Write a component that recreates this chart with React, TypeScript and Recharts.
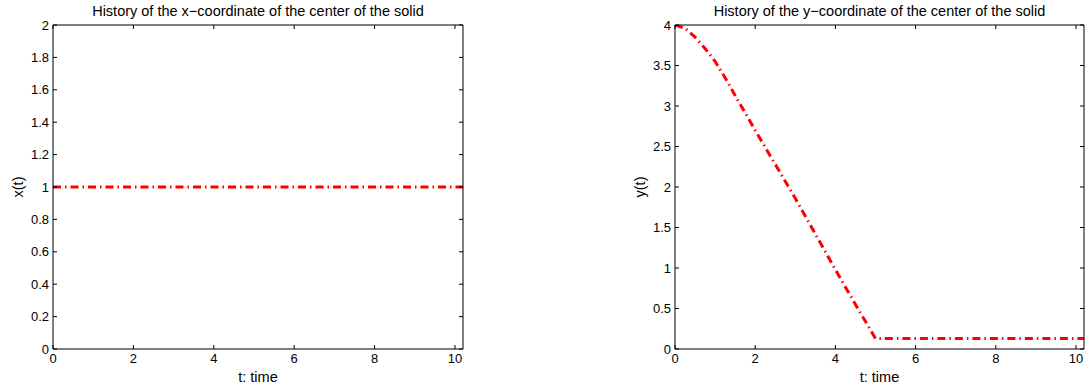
import React from "react";
import { Line, LineChart, XAxis, YAxis } from "recharts";

// x-coordinate of the solid's center over time (stays put)
const xTime = [0, 10.2];
const xCoord = [1, 1];

// y-coordinate of the solid's center over time (falls, then rests)
const yTime = [0, 0.25, 0.5, 0.75, 1, 1.25, 1.5, 2, 2.5, 3, 3.5, 4, 4.5, 5, 10.2];
const yCoord = [4, 3.96, 3.85, 3.71, 3.55, 3.35, 3.13, 2.7, 2.28, 1.86, 1.42, 0.98, 0.55, 0.13, 0.13];

const timeTicks = [0, 2, 4, 6, 8, 10];
const xCoordTicks = [0, 0.2, 0.4, 0.6, 0.8, 1, 1.2, 1.4, 1.6, 1.8, 2];
const yCoordTicks = [0, 0.5, 1, 1.5, 2, 2.5, 3, 3.5, 4];

const FONT = '"Liberation Sans", Arial, Helvetica, sans-serif';
const TICK_LEN = 4;
const X_MARGIN = 5;
const Y_MARGIN = 4;

function BottomTick({ x, y, payload }: any) {
  const axisY = y - X_MARGIN;
  return (
    <g>
      <line x1={x} y1={axisY} x2={x} y2={axisY - TICK_LEN} stroke="#000" />
      <text x={x} y={y} dy="0.71em" textAnchor="middle" fontSize={13} fontFamily={FONT} fill="#000">
        {payload.value}
      </text>
    </g>
  );
}

function LeftTick({ x, y, payload }: any) {
  const axisX = x + Y_MARGIN;
  return (
    <g>
      <line x1={axisX} y1={y} x2={axisX + TICK_LEN} y2={y} stroke="#000" />
      <text x={x} y={y} dy="0.355em" textAnchor="end" fontSize={13} fontFamily={FONT} fill="#000">
        {payload.value}
      </text>
    </g>
  );
}

function TopTick({ x, y }: any) {
  return <line x1={x} y1={y} x2={x} y2={y + TICK_LEN} stroke="#000" />;
}

function RightTick({ x, y }: any) {
  return <line x1={x} y1={y} x2={x - TICK_LEN} y2={y} stroke="#000" />;
}

type PanelProps = {
  left: number;
  width: number;
  margin: { top: number; right: number; bottom: number; left: number };
  time: number[];
  values: number[];
  yDomain: [number, number];
  yTicks: number[];
  title: string;
  yLabel: string;
  yLabelX: number;
};

function Panel({ left, width, margin, time, values, yDomain, yTicks, title, yLabel, yLabelX }: PanelProps) {
  const data = time.map((t, i) => ({ t, v: values[i] }));
  const height = 392;
  const plotLeft = margin.left + 40;
  const plotRight = width - margin.right - 1;
  const cx = (plotLeft + plotRight) / 2;
  const cy = (margin.top + 1 + (height - margin.bottom - 36)) / 2;

  return (
    <div style={{ position: "absolute", left, top: 0, width, height }}>
      <LineChart width={width} height={height} data={data} margin={margin}>
        <XAxis
          dataKey="t"
          type="number"
          domain={[0, 10.2]}
          ticks={timeTicks}
          interval={0}
          allowDataOverflow
          height={36}
          tickSize={0}
          tickMargin={X_MARGIN}
          tickLine={false}
          axisLine={{ stroke: "#000" }}
          tick={<BottomTick />}
        />
        <XAxis
          xAxisId="top"
          orientation="top"
          dataKey="t"
          type="number"
          domain={[0, 10.2]}
          ticks={timeTicks}
          interval={0}
          allowDataOverflow
          height={1}
          tickSize={0}
          tickMargin={0}
          tickLine={false}
          axisLine={{ stroke: "#000" }}
          tick={<TopTick />}
        />
        <YAxis
          type="number"
          domain={yDomain}
          ticks={yTicks}
          interval={0}
          allowDataOverflow
          width={40}
          tickSize={0}
          tickMargin={Y_MARGIN}
          tickLine={false}
          axisLine={{ stroke: "#000" }}
          tick={<LeftTick />}
        />
        <YAxis
          yAxisId="right"
          orientation="right"
          type="number"
          domain={yDomain}
          ticks={yTicks}
          interval={0}
          allowDataOverflow
          width={1}
          tickSize={0}
          tickMargin={0}
          tickLine={false}
          axisLine={{ stroke: "#000" }}
          tick={<RightTick />}
        />
        {/* transparent copy bound to the box axes so they get a scale */}
        <Line
          xAxisId="top"
          yAxisId="right"
          type="linear"
          dataKey="v"
          stroke="none"
          dot={false}
          activeDot={false}
          isAnimationActive={false}
        />
        <Line
          type="linear"
          dataKey="v"
          stroke="#ff0000"
          strokeWidth={3}
          strokeDasharray="8 4 1.5 4"
          dot={false}
          activeDot={false}
          isAnimationActive={false}
        />
      </LineChart>
      <svg
        width={width}
        height={height}
        style={{ position: "absolute", left: 0, top: 0, pointerEvents: "none" }}
      >
        <text x={cx} y={16} textAnchor="middle" fontSize={14.5} fontFamily={FONT} fill="#000">
          {title}
        </text>
        <text x={cx} y={382} textAnchor="middle" fontSize={14.5} fontFamily={FONT} fill="#000">
          t: time
        </text>
        <text
          x={yLabelX}
          y={cy}
          textAnchor="middle"
          fontSize={14.5}
          fontFamily={FONT}
          fill="#000"
          transform={`rotate(-90 ${yLabelX} ${cy})`}
        >
          {yLabel}
        </text>
      </svg>
    </div>
  );
}

export default function App() {
  return (
    <div style={{ position: "absolute", left: 0, top: 0, width: 1089, height: 392, background: "#fff" }}>
      <Panel
        left={0}
        width={480}
        margin={{ top: 24, right: 16, bottom: 7, left: 13 }}
        time={xTime}
        values={xCoord}
        yDomain={[0, 2]}
        yTicks={xCoordTicks}
        title="History of the x−coordinate of the center of the solid"
        yLabel="x(t)"
        yLabelX={23}
      />
      <Panel
        left={620}
        width={469}
        margin={{ top: 24, right: 4, bottom: 7, left: 15 }}
        time={yTime}
        values={yCoord}
        yDomain={[0, 4]}
        yTicks={yCoordTicks}
        title="History of the y−coordinate of the center of the solid"
        yLabel="y(t)"
        yLabelX={25}
      />
    </div>
  );
}
